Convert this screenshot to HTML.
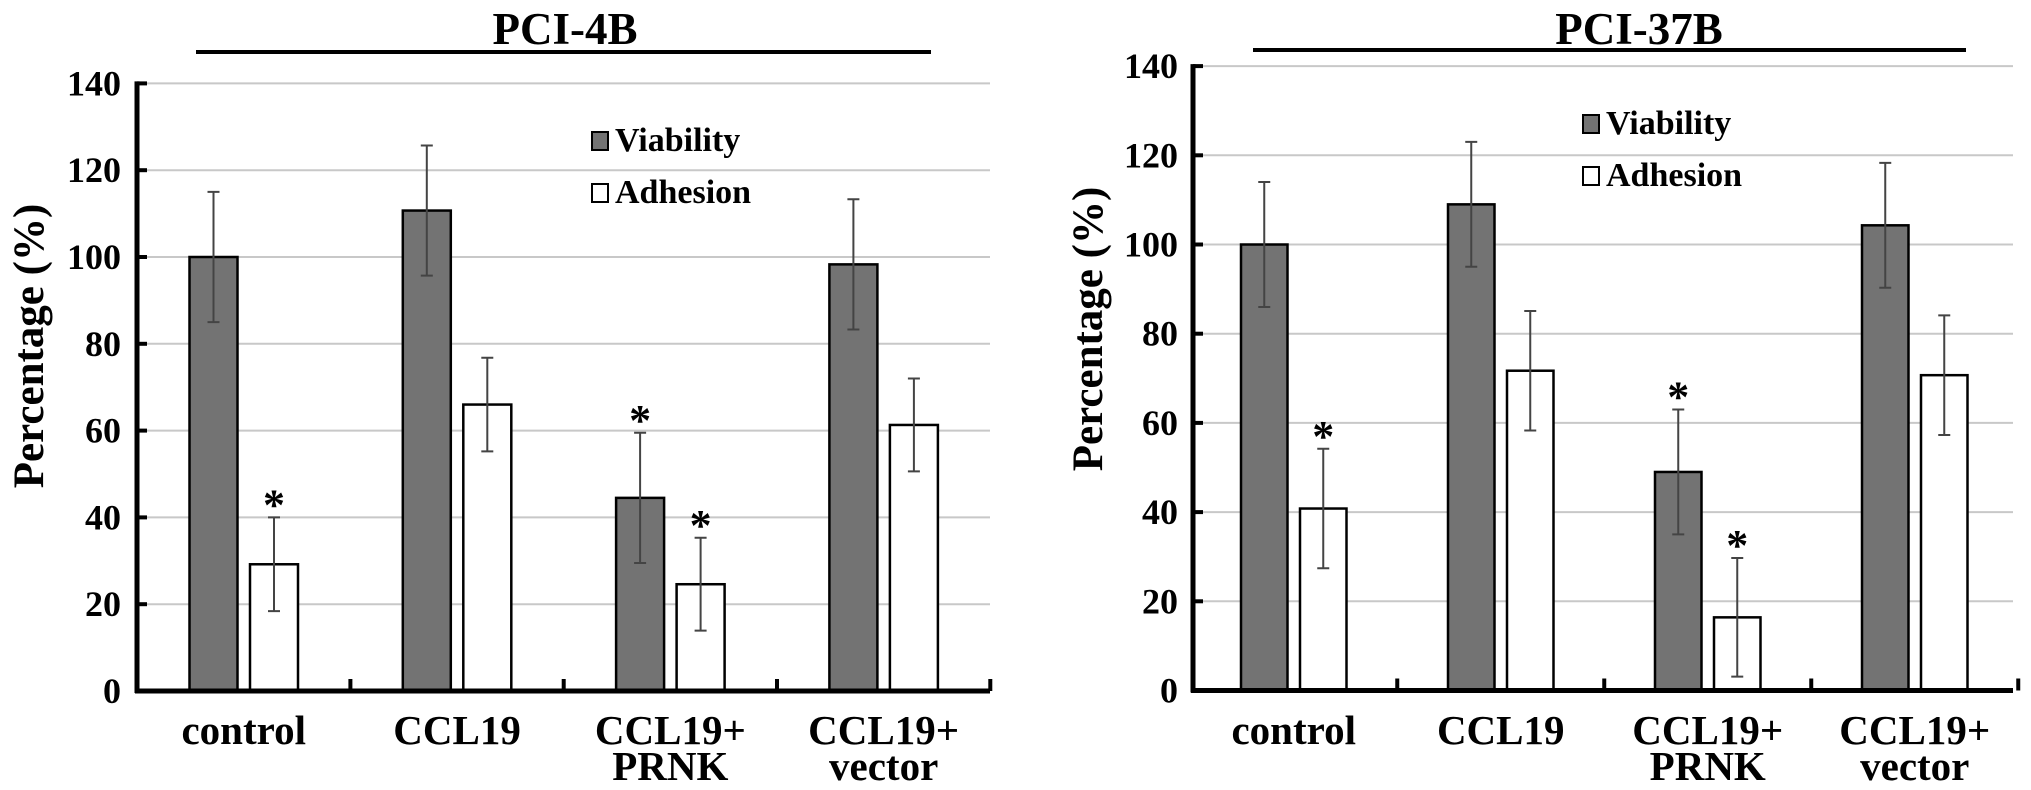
<!DOCTYPE html>
<html><head><meta charset="utf-8">
<style>
html,body{margin:0;padding:0;background:#fff;}
svg{display:block;}
text{font-family:"Liberation Serif",serif;font-weight:bold;fill:#000;}
</style></head>
<body>
<svg id="chart" width="2031" height="790" viewBox="0 0 2031 790" xmlns="http://www.w3.org/2000/svg"></svg>
<script>
const categories = ["control","CCL19","CCL19+\nPRNK","CCL19+\nvector"];
const yTicks = [0,20,40,60,80,100,120,140];
const leftViability = [100,110.7,44.5,98.3];
const leftViabilityErr = [15,15,15,15];
const leftAdhesion = [29.2,66,24.6,61.3];
const leftAdhesionErr = [10.8,10.8,10.7,10.7];
const leftViabilityStar = [false,false,true,false];
const leftAdhesionStar = [true,false,true,false];
const rightViability = [100,109,49,104.3];
const rightViabilityErr = [14,14,14,14];
const rightAdhesion = [40.8,71.7,16.4,70.7];
const rightAdhesionErr = [13.4,13.4,13.3,13.4];
const rightViabilityStar = [false,false,true,false];
const rightAdhesionStar = [true,false,true,false];

const NS="http://www.w3.org/2000/svg";
const svg=document.getElementById('chart');
function mk(tag,attrs,parent){const e=document.createElementNS(NS,tag);for(const k in attrs)e.setAttribute(k,attrs[k]);(parent||svg).appendChild(e);return e;}

function drawPanel(cfg){
  const g=mk('g',{});
  
  
  const y=v=>cfg.y0-v/20*cfg.step;
  yTicks.forEach(t=>{
    if(t===0)return;
    const l=mk('line',{x1:cfg.ax,x2:cfg.axEnd,y1:y(t),y2:y(t),stroke:'#c8c8c8','stroke-width':2},g);
    
    
  });
  const tt=mk('text',{x:cfg.titleX,y:44,'font-size':45,'text-anchor':'middle'},g);
  tt.textContent=cfg.title;
  
  
  const tl=mk('line',{x1:cfg.lineX1,x2:cfg.lineX2,y1:cfg.lineY,y2:cfg.lineY,stroke:'#000','stroke-width':4},g);
  
  
  const yt=mk('text',{x:0,y:0,'font-size':43,'text-anchor':'middle',transform:`translate(${cfg.yTitleX},${cfg.yTitleY}) rotate(-90)`},g);
  yt.textContent='Percentage (%)';
  
  
  for(let i=0;i<categories.length;i++){
    const series=[
      {v:cfg.vi[i],e:cfg.viE[i],s:cfg.viS[i],x:cfg.vx+i*cfg.sp,fill:'#737373',name:'viability-bar'},
      {v:cfg.ad[i],e:cfg.adE[i],s:cfg.adS[i],x:cfg.axB+i*cfg.sp,fill:'#ffffff',name:'adhesion-bar'}
    ];
    series.forEach(s=>{
      const r=mk('rect',{x:s.x,y:y(s.v),width:cfg.bw,height:y(0)-y(s.v),fill:s.fill,stroke:'#000','stroke-width':2.5},g);
      
      
      const cx=s.x+cfg.bw/2;
      const eb=mk('path',{d:`M${cx},${y(s.v+s.e)}V${y(s.v-s.e)}M${cx-6},${y(s.v+s.e)}H${cx+6}M${cx-6},${y(s.v-s.e)}H${cx+6}`,stroke:'#444','stroke-width':2,fill:'none'},g);
      
      
      if(s.s){
        const st=mk('text',{x:cx,y:y(s.v+s.e)+2,'font-size':44,'font-weight':'normal','text-anchor':'middle'},g);
        st.textContent='*';
        
        
      }
    });
    const cxg=(cfg.vx+cfg.axB+cfg.bw)/2+i*cfg.sp;
    const lines=categories[i].split('\n');
    lines.forEach((ln,j)=>{
      const t=mk('text',{x:cxg,y:744+j*36,'font-size':41,'text-anchor':'middle'},g);
      t.textContent=ln;
      
      
    });
    const tx=cxg+cfg.sp/2;
    const tk=mk('line',{x1:tx,x2:tx,y1:y(0),y2:y(0)-12,stroke:'#000','stroke-width':4},g);
    
    
  }
  const ya=mk('line',{x1:cfg.ax,x2:cfg.ax,y1:y(140)-2,y2:y(0)+2,stroke:'#000','stroke-width':5},g);
  
  
  const xa=mk('line',{x1:cfg.ax-2,x2:cfg.axEnd,y1:y(0),y2:y(0),stroke:'#000','stroke-width':5},g);
  
  
  yTicks.forEach(t=>{
    const tk=mk('line',{x1:cfg.ax,x2:cfg.ax+10,y1:y(t),y2:y(t),stroke:'#000','stroke-width':4},g);
    
    
    const lb=mk('text',{x:cfg.tickLabelX,y:y(t)+12,'font-size':36,'text-anchor':'end'},g);
    lb.textContent=t;
    
    
  });
  const lg=mk('g',{},g);
  
  
  [['Viability','#737373',cfg.legY],['Adhesion','#fff',cfg.legY+52]].forEach(([n,f,ly])=>{
    const r=mk('rect',{x:cfg.legX,y:ly,width:16,height:18,fill:f,stroke:'#000','stroke-width':2},lg);
    
    
    const t=mk('text',{x:cfg.legX+23,y:ly+19,'font-size':34},lg);
    t.textContent=n;
    
    
  });
}

drawPanel({id:'pci-4b',title:'PCI-4B',titleX:565,lineX1:196,lineX2:931,lineY:52,
  ax:137,axEnd:990,y0:691,step:86.8,vx:189.5,axB:250,bw:48,sp:213.3,
  vi:leftViability,viE:leftViabilityErr,viS:leftViabilityStar,
  ad:leftAdhesion,adE:leftAdhesionErr,adS:leftAdhesionStar,
  tickLabelX:121,yTitleX:43,yTitleY:346,legX:592,legY:132});
drawPanel({id:'pci-37b',title:'PCI-37B',titleX:1639,lineX1:1253,lineX2:1966,lineY:50,
  ax:1193,axEnd:2013,y0:690.5,step:89.2,vx:1241,axB:1300,bw:46.5,sp:207,
  vi:rightViability,viE:rightViabilityErr,viS:rightViabilityStar,
  ad:rightAdhesion,adE:rightAdhesionErr,adS:rightAdhesionStar,
  tickLabelX:1178,yTitleX:1102,yTitleY:329,legX:1583,legY:115});
</script>
</body></html>
